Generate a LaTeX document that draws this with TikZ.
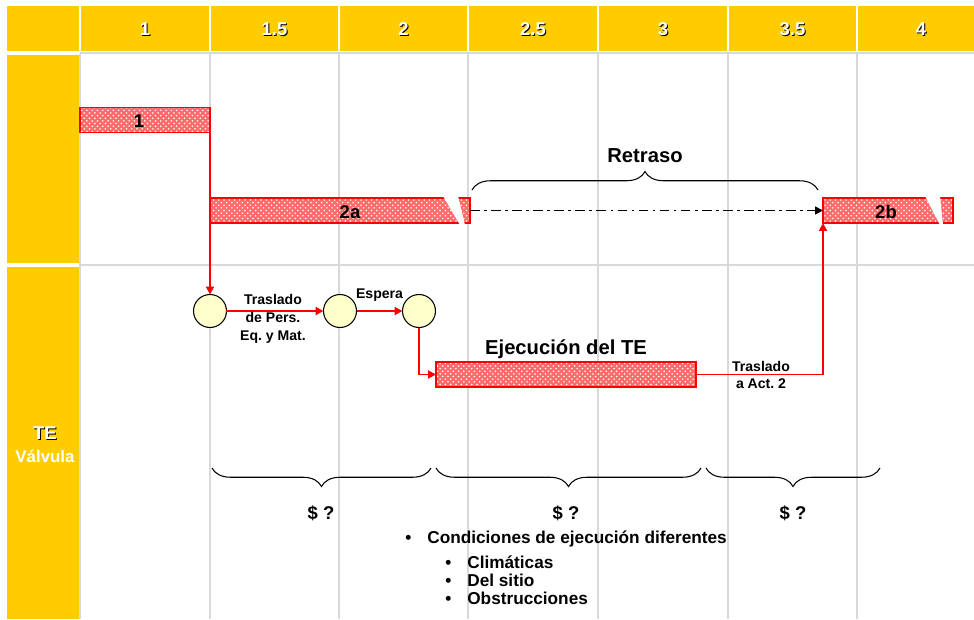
\documentclass[tikz,border=0pt]{standalone}
\usepackage{fontspec}
\setmainfont{Liberation Sans}
\usetikzlibrary{arrows.meta,patterns,decorations.pathreplacing}
\frenchspacing

\definecolor{amarillo}{HTML}{FFCC00}
\definecolor{rejilla}{HTML}{D9D9D9}
\definecolor{rojo}{HTML}{FF0000}
\definecolor{crema}{HTML}{FFFFCC}

\tikzset{
  celda/.style={fill=amarillo, draw=none},
  linea/.style={draw=rejilla, line width=1.1pt},
  barra/.style={draw=rojo, line width=1.1pt, preaction={fill=red!58}, pattern=crosshatch dots, pattern color=white, minimum height=0.5cm, inner sep=0pt, outer sep=0pt},
  corte/.style={fill=white, draw=none},
  circulo/.style={circle, draw=black, fill=crema, line width=0.6pt, minimum size=0.66cm, inner sep=0pt, outer sep=0pt},
  flecha/.style={draw=rojo, line width=1.1pt, -{Triangle[length=4.5pt,width=4.5pt]}},
  punteada/.style={draw=black, line width=0.9pt, dash pattern=on 5.5pt off 2.5pt on 1.5pt off 2.5pt, -{Triangle[length=4.5pt,width=4.5pt]}},
  llave/.style={draw=black, line width=0.6pt, decorate, decoration={brace, amplitude=0.37cm}},
  encab/.style={text=white, font=\bfseries\fontsize{10.5}{12}\selectfont, inner sep=0pt},
  sombra/.style={text=black, font=\bfseries\fontsize{10.5}{12}\selectfont, inner sep=0pt},
  bartxt/.style={font=\bfseries\fontsize{10.5}{12}\selectfont, inner sep=0pt},
  etiq/.style={font=\bfseries\fontsize{8}{10.2}\selectfont, inner sep=0pt, align=center},
  titulo/.style={font=\bfseries\fontsize{11.5}{13}\selectfont, inner sep=0pt},
  costo/.style={font=\bfseries\fontsize{10.5}{12}\selectfont, inner sep=0pt},
  lista/.style={font=\bfseries\fontsize{9.8}{10.2}\selectfont, inner sep=0pt}
}

\begin{document}
\begin{tikzpicture}[x=0.02cm, y=-0.02cm]
  % Page size and background
  \useasboundingbox (0,0) rectangle (974,619);
  \fill[white] (0,0) rectangle (974,619);

  % Yellow header row and left column
  \fill[celda] (7,6) rectangle (79,51);
  \foreach \xa/\xb in {81/209, 211/338, 340/467, 469/597, 599/727, 729/856, 858/974}
    \fill[celda] (\xa,6) rectangle (\xb,51);
  \fill[celda] (7,55) rectangle (79,263);
  \fill[celda] (7,267) rectangle (79,619);

  % Grid lines
  \draw[linea] (80,53) -- (974,53);
  \draw[linea] (80,265) -- (974,265);
  \foreach \xg in {80, 210, 339, 468, 598, 728, 857}
    \draw[linea] (\xg,54) -- (\xg,619);

  % Header numbers with shadow
  \foreach \xc/\etq [count=\i] in {145/1, 274.5/1.5, 403.5/2, 533/2.5, 663/3, 792.5/3.5, 921/4} {
    \node[sombra] (s\i) at (\xc+1,30) {\etq};
    \node[encab] (h\i) at (\xc,29) {\etq};
  }

  % Left column labels
  \node[sombra] (sTE) at (46,434) {TE};
  \node[encab] (TE) at (45,433) {TE};
  \node[encab, font=\bfseries\fontsize{9.6}{12}\selectfont] (valv) at (45,456) {Válvula};

  % Activity bars
  \node[barra, minimum width=2.6cm] (b1) at (145,120) {};
  \node[barra, minimum width=5.2cm] (b2a) at (340,210.5) {};
  \node[barra, minimum width=2.6cm] (b2b) at (888,210.5) {};
  \node[barra, minimum width=5.2cm] (ejec) at (566,374.5) {};

  % Breaks at the end of 2a and 2b
  \fill[corte] (443,196) -- (458,196) -- (465,225) -- (460,225) -- cycle;
  \fill[corte] (925,196) -- (940,196) -- (943,225) -- (940,225) -- cycle;

  % Bar labels
  \node[bartxt] (t1) at (139,121) {1};
  \node[bartxt] (t2a) at (350,212) {2a};
  \node[bartxt] (t2b) at (886,212) {2b};
  \node[titulo] (tEjec) at (566,349) {Ejecución del TE};

  % Circles of the valve sequence
  \node[circulo] (c1) at (210,311) {};
  \node[circulo] (c2) at (340,311) {};
  \node[circulo] (c3) at (419,311) {};

  % Red connectors
  \draw[flecha] (b1.south east) -- (c1.north);
  \draw[flecha] (c1) -- (c2);
  \node[etiq] (tras1) at (273,319) {Traslado\\de Pers.\\Eq. y Mat.};
  \draw[flecha] (c2) -- (c3) node[etiq, midway, above=0.17cm] (esp) {Espera};
  \draw[flecha] (c3.south) |- (ejec.west);
  \draw[flecha] (ejec.east) -| (b2b.south west);
  \node[etiq] (tras2) at (761,375) {Traslado\\a Act. 2};

  % Delay between 2a and 2b
  \draw[punteada] (b2a.east) -- (b2b.west);
  \coordinate (rA) at (472,190);
  \coordinate (rB) at (818,190);
  \draw[llave] (rA) -- (rB);
  \node[titulo] (retraso) at (645,156) {Retraso};

  % Cost braces
  \coordinate (k1a) at (212,468);
  \coordinate (k1b) at (431,468);
  \coordinate (k2a) at (436,468);
  \coordinate (k2b) at (701,468);
  \coordinate (k3a) at (706,468);
  \coordinate (k3b) at (880,468);
  \draw[llave, decoration={mirror}] (k1a) -- (k1b);
  \draw[llave, decoration={mirror}] (k2a) -- (k2b);
  \draw[llave, decoration={mirror}] (k3a) -- (k3b);
  \node[costo] (costo1) at (321,513) {\$ ?};
  \node[costo] (costo2) at (566,513) {\$ ?};
  \node[costo] (costo3) at (793,513) {\$ ?};

  % Conditions list
  \node[lista, anchor=west] (cond) at (405,539) {\makebox[0.44cm][l]{\textbullet}Condiciones de ejecución diferentes};
  \foreach \etq [count=\i] in {Climáticas, Del sitio, Obstrucciones}
    \node[lista, anchor=west] (sub\i) at (445,544+18*\i) {\makebox[0.44cm][l]{\textbullet}\etq};
\end{tikzpicture}
\end{document}
